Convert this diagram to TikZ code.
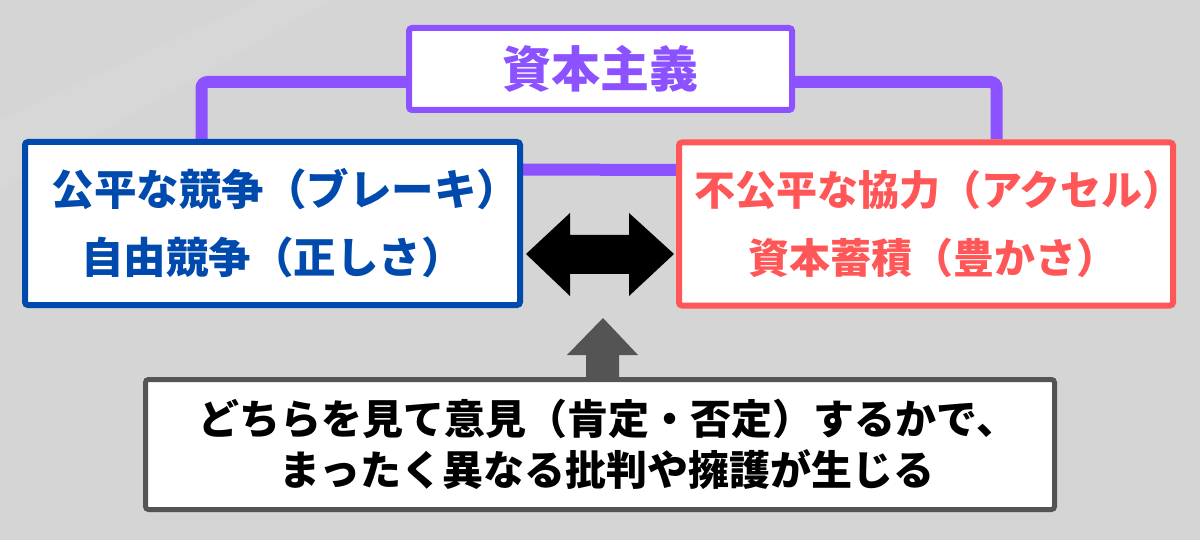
\documentclass[tikz,border=0pt]{standalone}
\usepackage{fontspec}
\setmainfont{Noto Sans CJK JP}
\usetikzlibrary{backgrounds}
\definecolor{bg}{HTML}{D5D5D5}
\definecolor{purp}{HTML}{8C52FF}
\definecolor{blu}{HTML}{004AAD}
\definecolor{redc}{HTML}{FF5757}
\definecolor{dgray}{HTML}{545454}
\newcommand{\shiftline}[2]{\makebox[0pt]{\hspace*{#1pt}#2}}
\tikzset{
  box/.style={rectangle, fill=white, line width=6pt, rounded corners=3pt, align=center, inner sep=0pt},
  link/.style={draw=purp, line width=12pt, rounded corners=6pt},
}
\begin{document}
\begin{tikzpicture}[x=1pt,y=-1pt]
\useasboundingbox (0,0) rectangle (1200,540);
\node[box, draw=purp, minimum width=383pt, minimum height=82pt, text=purp,
  font=\fontsize{49}{56}\selectfont\bfseries] (title) at (600.5,69) {資本主義};
\node[box, draw=blu, minimum width=495pt, minimum height=163pt, text=blu,
  font=\fontsize{42.5}{68}\selectfont\bfseries] (blue) at (272.5,223.5)
  {\shiftline{26}{公平な競争（ブレーキ）}\\\shiftline{0}{自由競争（正しさ）}};
\node[box, draw=redc, minimum width=494pt, minimum height=163pt, text=redc,
  font=\fontsize{41}{68}\selectfont\bfseries] (red) at (926,224)
  {\shiftline{26}{不公平な協力（アクセル）}\\\shiftline{14}{資本蓄積（豊かさ）}};
\node[box, draw=dgray, line width=5pt, minimum width=909pt, minimum height=130pt, text=black,
  font=\fontsize{41}{51}\selectfont\bfseries] (note) at (600,444.5)
  {\shiftline{16}{どちらを見て意見（肯定・否定）するかで、}\\\shiftline{14}{まったく異なる批判や擁護が生じる}};
\begin{scope}[on background layer]
  \fill[bg] (0,0) rectangle (1200,540);
  \fill[white,opacity=0.06] (0,120) -- (260,0) -- (330,0) -- (0,190) -- cycle;
  \draw[link] ([yshift=-13pt]title.west) -| ([xshift=179.5pt]blue.north west);
  \draw[link] ([yshift=-13pt]title.east) -| ([xshift=-179.5pt]red.north east);
  \draw[purp, line width=12pt] ([yshift=54pt]blue.east) -- ([yshift=54pt]red.west);
  \fill[black] (526,254) -- (570,213) -- (570,235) -- (629,235) -- (629,213) -- (674,254)
    -- (629,296) -- (629,274) -- (570,274) -- (570,296) -- cycle;
  \fill[dgray] (603,318) -- (638,355) -- (619,355) -- (619,378) -- (586,378) -- (586,355) -- (567,355) -- cycle;
\end{scope}
\end{tikzpicture}
\end{document}
